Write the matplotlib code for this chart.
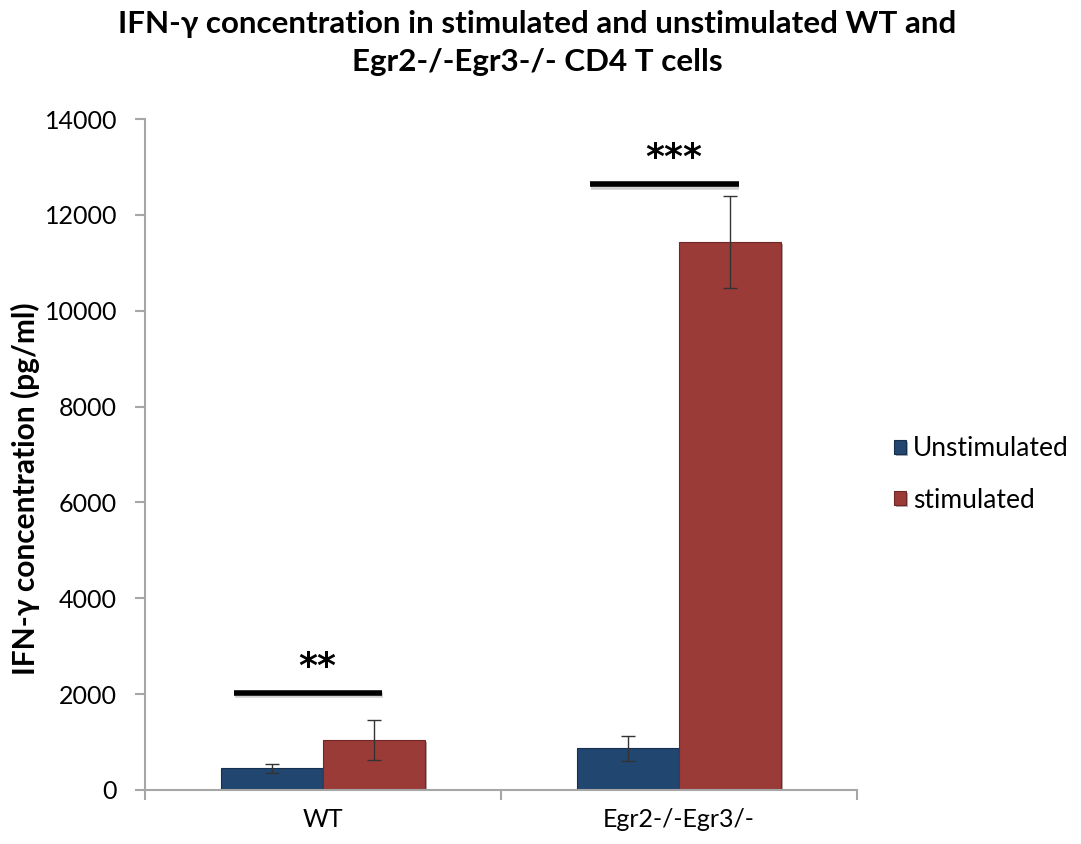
import numpy as np
import matplotlib
matplotlib.use("Agg")
import matplotlib.pyplot as plt
import matplotlib.patheffects as pe

plt.rcParams['font.family'] = ['Lato', 'DejaVu Sans']

# data
groups = ['WT', 'Egr2-/-Egr3/-']
unstim = [450, 870]
unstim_err = [95, 260]
stim = [1050, 11430]
stim_err = [420, 955]
# significance bars: height and label per group
sig_y = [2030, 12640]
sig_txt = ['**', '***']

blue = '#21466f'
red = '#9b3b38'
grey = '#a6a6a6'

fig = plt.figure(figsize=(10.81, 8.44), dpi=100)
ax = fig.add_axes([0.134, 0.064, 0.659, 0.795])

x = np.arange(len(groups))
w = 0.286
shadow = [pe.SimplePatchShadow(offset=(1.5, -1.5), alpha=0.35), pe.Normal()]
ax.bar(x - w / 2, unstim, w, color=blue, edgecolor='#15304f', linewidth=0.8,
       label='Unstimulated', path_effects=shadow)
ax.bar(x + w / 2, stim, w, color=red, edgecolor='#6e2826', linewidth=0.8,
       label='stimulated', path_effects=shadow)
ax.errorbar(x - w / 2, unstim, yerr=unstim_err, fmt='none', ecolor='#333333',
            elinewidth=1, capsize=5, capthick=1)
ax.errorbar(x + w / 2, stim, yerr=stim_err, fmt='none', ecolor='#333333',
            elinewidth=1, capsize=5, capthick=1)

# significance lines + stars
line_fx = [
    pe.SimpleLineShadow(offset=(0.5, -2), alpha=0.18, shadow_color='k'),
    pe.Normal(),
]
for i in range(len(groups)):
    ax.plot([x[i] - 0.25, x[i] + 0.167], [sig_y[i], sig_y[i]], color='black',
            lw=4, solid_capstyle='butt', path_effects=line_fx)
    ax.text(x[i] - 0.015, sig_y[i] + 330, sig_txt[i],
            ha='center', va='baseline', fontsize=26, fontweight='bold',
            color='black', family='DejaVu Sans')

ax.set_xlim(-0.5, len(groups) - 0.5)
ax.set_ylim(0, 14000)
ax.set_yticks(np.arange(0, 14001, 2000))
ax.set_xticks(x)
ax.set_xticklabels(groups)
ax.set_xticks([-0.5, 0.5, 1.5], minor=True)
ax.tick_params(axis='x', which='major', length=0, pad=13, labelsize=18)
ax.tick_params(axis='x', which='minor', length=7, color=grey, width=1.5)
ax.tick_params(axis='y', length=7, color=grey, width=1.5, labelsize=18, pad=13)

for s in ['top', 'right']:
    ax.spines[s].set_visible(False)
for s in ['left', 'bottom']:
    ax.spines[s].set_color(grey)
    ax.spines[s].set_linewidth(1.5)

ax.set_ylabel('IFN-\u03b3 concentration (pg/ml)', fontsize=21.5, fontweight='bold')
ax.yaxis.set_label_coords(-0.167, 0.449)
ax.yaxis.label.set_va('center')

fig.suptitle('IFN-\u03b3 concentration in stimulated and unstimulated WT and\n'
             'Egr2-/-Egr3-/- CD4 T cells', fontsize=22.6, fontweight='bold',
             x=0.497, y=0.988, va='top', linespacing=1.45)

ax.legend(loc='center left', bbox_to_anchor=(0.815, 0.438),
          bbox_transform=fig.transFigure, frameon=False, borderpad=0,
          fontsize=19, handlelength=0.46, handleheight=0.46, handletextpad=0.25,
          labelspacing=1.0)

fig.savefig('out.png', dpi=100)
